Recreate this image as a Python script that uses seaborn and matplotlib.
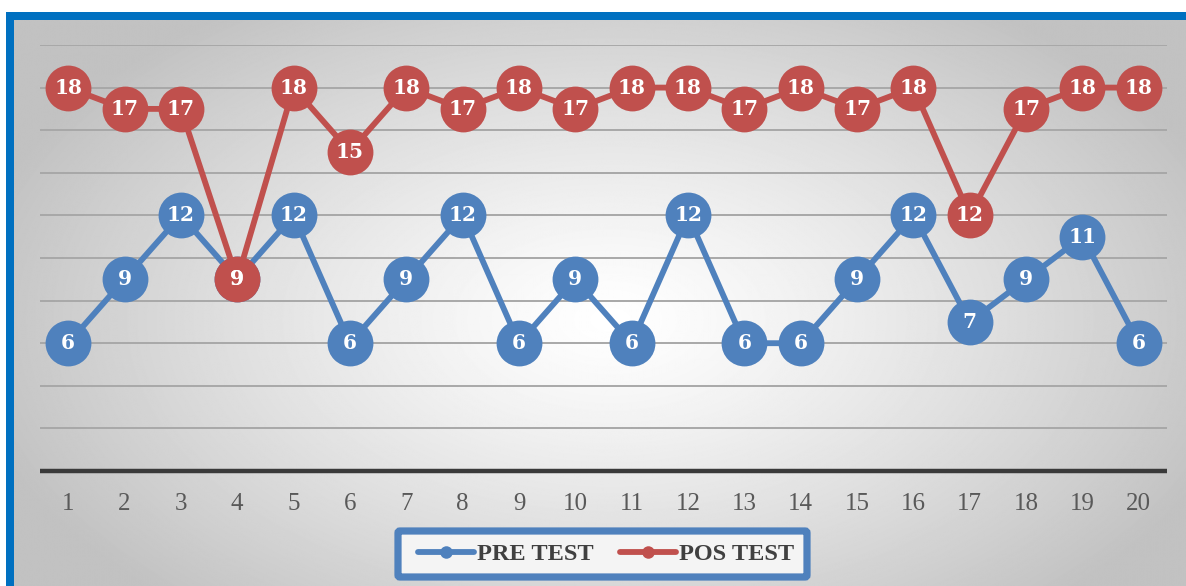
import numpy as np
import pandas as pd
import matplotlib
matplotlib.use("Agg")
import matplotlib.pyplot as plt
from matplotlib.lines import Line2D
from matplotlib.patches import Rectangle, FancyBboxPatch
import seaborn as sns

students = list(range(1, 21))
pre_test = [6, 9, 12, 9, 12, 6, 9, 12, 6, 9, 6, 12, 6, 6, 9, 12, 7, 9, 11, 6]
pos_test = [18, 17, 17, 9, 18, 15, 18, 17, 18, 17, 18, 18, 17, 18, 17, 18, 12, 17, 18, 18]
series_names = ["PRE TEST", "POS TEST"]
series_colors = ["#4F81BD", "#C0504D"]

sns.set_theme(style="white")
plt.rcParams["font.family"] = ["Liberation Serif", "DejaVu Serif"]

W, H = 1186, 586
fig = plt.figure(figsize=(W / 100, H / 100), dpi=100)
fig.patch.set_facecolor("white")

# Background: radial gray gradient inside a blue frame
bg = fig.add_axes([0, 0, 1, 1], zorder=0)
bg.set_xlim(0, W)
bg.set_ylim(H, 0)
bg.axis("off")
yy, xx = np.mgrid[0:H, 0:W]
r = np.sqrt(((xx - 600) / 700.0) ** 2 + ((yy - 310) / 420.0) ** 2)
shade = np.clip(1.0 - 0.26 * r ** 1.2, 0.76, 1.0)
bg.imshow(shade, cmap="gray", vmin=0, vmax=1, extent=(14, W + 6, H, 20),
          interpolation="bilinear", aspect="auto")
bg.add_patch(Rectangle((6, 12), W + 20, 8, color="#0070C0", lw=0))
bg.add_patch(Rectangle((6, 12), 8, H, color="#0070C0", lw=0))

# Legend box outline
bg.add_patch(FancyBboxPatch((398, 531), 409, 46, boxstyle="round,pad=0,rounding_size=2",
                            facecolor="#f4f4f4", edgecolor="#4F81BD", lw=5.2, zorder=3))

# Main plotting area
x0, x1, y_top, y_bot = 40, 1167, 45, 471
ax = fig.add_axes([x0 / W, (H - y_bot) / H, (x1 - x0) / W, (y_bot - y_top) / H], zorder=2)
ax.set_facecolor("none")

df = pd.DataFrame({
    "student": students * 2,
    "score": pre_test + pos_test,
    "test": [series_names[0]] * len(pre_test) + [series_names[1]] * len(pos_test),
})

for name, color in zip(series_names, series_colors):
    sub = df[df["test"] == name]
    sns.lineplot(data=sub, x="student", y="score", ax=ax, color=color,
                 linewidth=4.2, marker="o", markersize=33, markeredgewidth=0,
                 legend=False, zorder=3)
    for xv, yv in zip(sub["student"], sub["score"]):
        ax.text(xv, yv, str(yv), ha="center", va="center", color="white",
                fontsize=14.5, fontweight="bold", family=["DejaVu Serif"], zorder=5)

ax.set_xlim(0.5, 20.5)
ax.set_ylim(0, 20)
ax.set_yticks(np.arange(0, 21, 2))
ax.set_xticks(students)
ax.set_xticklabels([str(s) for s in students], fontsize=18, color="#595959")
ax.tick_params(axis="x", length=0, pad=16)
ax.tick_params(axis="y", left=False, labelleft=False)
ax.set_xlabel("")
ax.set_ylabel("")
for yv in np.arange(2, 21, 2):
    ax.axhline(yv, color="#a8a8a8", lw=1.4, zorder=1)
ax.axhline(0, color="#3a3a3a", lw=3.2, zorder=2, clip_on=False, solid_capstyle="butt")
for s in ax.spines.values():
    s.set_visible(False)

# Legend entries
handles = [Line2D([0], [0], color=c, lw=4.2, marker="o", markersize=9,
                  markeredgewidth=0, solid_capstyle="round") for c in series_colors]
leg = fig.legend(handles, series_names, loc="center", ncol=2,
                 bbox_to_anchor=(606 / W, (H - 554) / H),
                 frameon=False, handlelength=2.3, handletextpad=0.12,
                 columnspacing=1.1, borderpad=0.2,
                 prop={"family": ["Liberation Serif"], "weight": "bold", "size": 17.5})
leg.set_zorder(5)
for t in leg.get_texts():
    t.set_color("#404040")

fig.savefig("out.png", dpi=100)
